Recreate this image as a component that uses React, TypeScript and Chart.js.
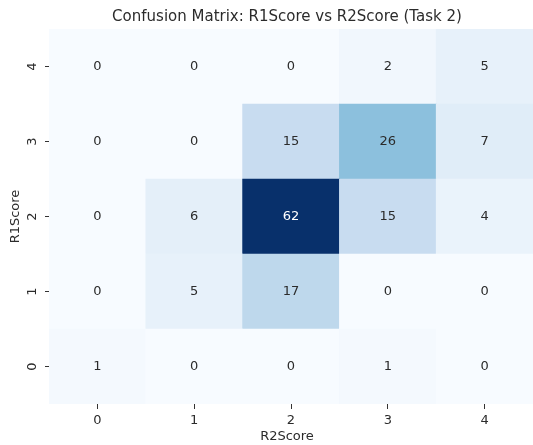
import React, { useEffect, useRef } from 'react';
import { Chart, registerables } from 'chart.js';

Chart.register(...registerables);

const chartTitle = 'Confusion Matrix: R1Score vs R2Score (Task 2)';
const xAxisTitle = 'R2Score';
const yAxisTitle = 'R1Score';

// R2Score categories (columns)
const xLabels = ['0', '1', '2', '3', '4'];
// R1Score categories (rows, bottom to top)
const yLabels = ['0', '1', '2', '3', '4'];

// counts per R1Score row, across R2Score columns 0..4
const row0 = [1, 0, 0, 1, 0];
const row1 = [0, 5, 17, 0, 0];
const row2 = [0, 6, 62, 15, 4];
const row3 = [0, 0, 15, 26, 7];
const row4 = [0, 0, 0, 2, 5];
const rows = [row0, row1, row2, row3, row4];

const bluesStops = ['#f7fbff', '#deebf7', '#c6dbef', '#9ecae1', '#6baed6', '#4292c6', '#2171b5', '#08519c', '#08306b'];

function hexToRgb(h: string): number[] {
  const n = parseInt(h.slice(1), 16);
  return [(n >> 16) & 255, (n >> 8) & 255, n & 255];
}

function blues(t: number): number[] {
  const tt = Math.max(0, Math.min(1, t)) * (bluesStops.length - 1);
  const i = Math.min(Math.floor(tt), bluesStops.length - 2);
  const f = tt - i;
  const a = hexToRgb(bluesStops[i]);
  const b = hexToRgb(bluesStops[i + 1]);
  return a.map((v, k) => Math.round(v + (b[k] - v) * f));
}

function rgbStr(c: number[]): string {
  return `rgb(${c[0]},${c[1]},${c[2]})`;
}

function luminance(c: number[]): number {
  const lin = c.map((v) => {
    const s = v / 255;
    return s <= 0.03928 ? s / 12.92 : Math.pow((s + 0.055) / 1.055, 2.4);
  });
  return 0.2126 * lin[0] + 0.7152 * lin[1] + 0.0722 * lin[2];
}

const FONT = '"DejaVu Sans", sans-serif';
const TEXT = '#2b2b2b';

export default function App() {
  const ref = useRef<HTMLCanvasElement>(null);

  useEffect(() => {
    if (!ref.current) return;
    const maxV = Math.max(...rows.map((r) => Math.max(...r)));

    const datasets = rows.map((row, r) => ({
      label: yLabels[r],
      data: row.map(() => [r - 0.5, r + 0.5]),
      backgroundColor: row.map((v) => rgbStr(blues(v / maxV))),
      borderWidth: 0,
      barPercentage: 1,
      categoryPercentage: 1,
      grouped: false,
    }));

    const annotate = {
      id: 'annotate',
      afterDatasetsDraw(chart: any) {
        const ctx = chart.ctx;
        ctx.save();
        ctx.font = `13px ${FONT}`;
        ctx.textAlign = 'center';
        ctx.textBaseline = 'middle';
        rows.forEach((row, r) => {
          const meta = chart.getDatasetMeta(r);
          row.forEach((v, c) => {
            const el: any = meta.data[c];
            const col = blues(v / maxV);
            ctx.fillStyle = luminance(col) > 0.408 ? TEXT : '#ffffff';
            ctx.fillText(String(v), el.x, (el.y + el.base) / 2);
          });
        });
        ctx.restore();
      },
      afterDraw(chart: any) {
        const ctx = chart.ctx;
        const ca = chart.chartArea;
        const cx = (ca.left + ca.right) / 2;
        const cy = (ca.top + ca.bottom) / 2;
        ctx.save();
        ctx.fillStyle = TEXT;
        ctx.textAlign = 'center';
        ctx.textBaseline = 'middle';
        ctx.font = `15px ${FONT}`;
        ctx.fillText(chartTitle, cx - 4, 17.5);
        ctx.font = `13px ${FONT}`;
        ctx.fillText(xAxisTitle, cx - 4, 437);
        const xs = chart.scales.x;
        xLabels.forEach((lab, i) => {
          ctx.fillText(lab, xs.getPixelForValue(i), 421);
        });
        ctx.save();
        ctx.translate(16, cy);
        ctx.rotate(-Math.PI / 2);
        ctx.fillText(yAxisTitle, 0, 0);
        ctx.restore();
        const ys = chart.scales.y;
        yLabels.forEach((lab, i) => {
          ctx.save();
          ctx.translate(33, ys.getPixelForValue(i));
          ctx.rotate(-Math.PI / 2);
          ctx.fillText(lab, 0, 0);
          ctx.restore();
        });
        ctx.restore();
      },
    };

    const chart = new Chart(ref.current, {
      type: 'bar',
      data: { labels: xLabels, datasets: datasets as any },
      plugins: [annotate],
      options: {
        animation: false,
        responsive: false,
        events: [],
        layout: { padding: { top: 29, right: 0, left: 0, bottom: 0 } },
        plugins: { legend: { display: false }, tooltip: { enabled: false }, title: { display: false } },
        scales: {
          x: {
            type: 'category',
            offset: true,
            grid: { offset: false, drawOnChartArea: false, drawTicks: true, tickLength: 5, color: '#333333', lineWidth: 1 },
            border: { display: false },
            ticks: { display: false },
            afterFit(scale: any) {
              scale.height = 41;
            },
          },
          y: {
            type: 'linear',
            min: -0.5,
            max: 4.5,
            grid: { drawOnChartArea: false, drawTicks: true, tickLength: 4, color: '#333333', lineWidth: 1 },
            border: { display: false },
            ticks: { display: false },
            afterBuildTicks(scale: any) {
              scale.ticks = yLabels.map((_, i) => ({ value: i }));
            },
            afterFit(scale: any) {
              scale.width = 49;
            },
          },
        },
      },
    });
    return () => chart.destroy();
  }, []);

  return (
    <div style={{ position: 'fixed', left: 0, top: 0, width: 533, height: 445, background: '#fff' }}>
      <canvas ref={ref} width={533} height={445} style={{ display: 'block' }} />
    </div>
  );
}
